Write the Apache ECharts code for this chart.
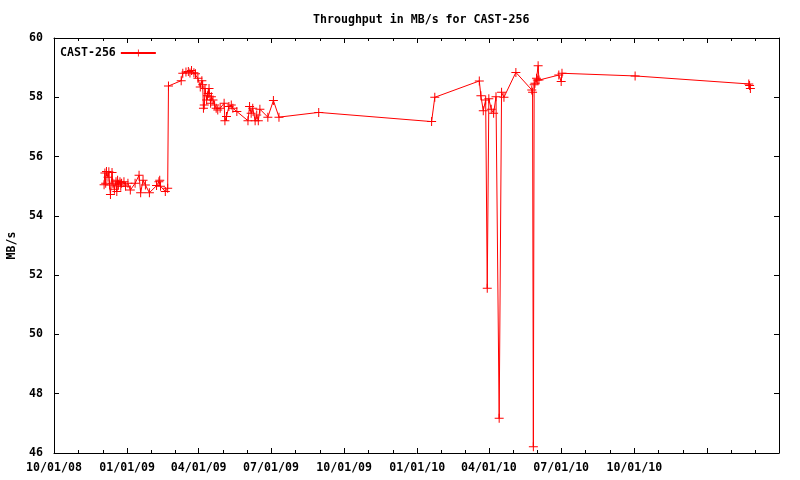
<!DOCTYPE html>
<html>
<head>
<meta charset="utf-8">
<script src="https://cdn.jsdelivr.net/npm/echarts@6/dist/echarts.min.js"></script>
<style>html,body{margin:0;padding:0;background:#fff}#c{width:800px;height:480px}</style>
</head>
<body>
<div id="c"></div>
<script>
const seriesName = 'CAST-256';
const titleText = 'Throughput in MB/s for CAST-256';
const yAxisName = 'MB/s';
const xTickLabels = ['10/01/08','01/01/09','04/01/09','07/01/09','10/01/09','01/01/10','04/01/10','07/01/10','10/01/10'];
const xMin = '2008-10-01';
const xMax = '2011-04-01';
const yMin = 46, yMax = 60, yStep = 2;

const dates = [
 '2008-12-03','2008-12-04','2008-12-05','2008-12-06','2008-12-08','2008-12-09','2008-12-10','2008-12-11',
 '2008-12-13','2008-12-14','2008-12-16','2008-12-18','2008-12-19','2008-12-20','2008-12-21','2008-12-23',
 '2008-12-24','2008-12-25','2008-12-28','2008-12-30','2009-01-02','2009-01-05','2009-01-11','2009-01-16',
 '2009-01-18','2009-01-21','2009-01-24','2009-01-29','2009-02-07','2009-02-10','2009-02-11','2009-02-12',
 '2009-02-18','2009-02-21','2009-02-22',
 '2009-03-10','2009-03-12','2009-03-16','2009-03-19','2009-03-21','2009-03-23','2009-03-26','2009-03-28',
 '2009-03-31','2009-04-03','2009-04-05','2009-04-06','2009-04-07','2009-04-08','2009-04-09','2009-04-11',
 '2009-04-12','2009-04-13','2009-04-14','2009-04-16','2009-04-17','2009-04-19','2009-04-21','2009-04-23',
 '2009-04-25','2009-04-28','2009-05-03','2009-05-04','2009-05-06','2009-05-09','2009-05-12','2009-05-14',
 '2009-05-19','2009-06-02','2009-06-04','2009-06-06','2009-06-08','2009-06-11','2009-06-13','2009-06-15',
 '2009-06-17','2009-06-27','2009-07-04','2009-07-11','2009-08-30',
 '2010-01-19','2010-01-23','2010-03-20','2010-03-22','2010-03-25','2010-03-28','2010-03-30','2010-04-01',
 '2010-04-04','2010-04-07','2010-04-10','2010-04-14','2010-04-17','2010-04-20','2010-05-05','2010-05-25',
 '2010-05-26','2010-05-27','2010-05-28','2010-05-29','2010-05-31','2010-06-01','2010-06-02','2010-06-03',
 '2010-06-28','2010-07-01','2010-07-02','2010-10-02','2011-02-22','2011-02-23','2011-02-24'
];
const values = [
 55.05,55.45,55.10,55.50,55.30,55.49,55.04,54.72,
 55.46,55.10,54.90,55.15,54.82,55.20,55.05,55.15,
 55.00,55.10,55.15,55.00,55.10,54.87,55.10,55.37,
 54.78,55.20,55.04,54.78,55.02,55.15,55.20,55.00,
 54.82,54.93,58.38,
 58.56,58.81,58.85,58.87,58.82,58.90,58.83,58.79,
 58.64,58.35,58.56,58.42,57.63,57.74,58.30,57.91,
 58.05,58.13,58.30,57.80,58.02,57.91,57.74,57.63,
 57.57,57.63,57.80,57.21,57.35,57.69,57.74,57.63,
 57.52,57.21,57.69,57.46,57.63,57.21,57.40,57.21,
 57.60,57.33,57.89,57.33,57.49,
 57.18,58.00,58.55,58.05,57.55,57.91,51.56,57.95,
 57.60,57.46,58.02,47.17,58.17,58.00,58.84,58.25,
 58.17,46.21,58.42,58.47,58.64,58.58,59.06,58.58,
 58.75,58.53,58.81,58.72,58.45,58.40,58.30
];

const FONT = 'DejaVu Sans Mono';
const FW = 'bold';
const FS = 11.6;
const RED = '#ff0000';
const PLUS = 'path://M4,0L5,0L5,4L9,4L9,5L5,5L5,9L4,9L4,5L0,5L0,4L4,4Z';

function pad(n){return (n<10?'0':'')+n;}
function fmtDate(v){
  const d = new Date(v);
  const s = pad(d.getMonth()+1)+'/'+pad(d.getDate())+'/'+pad(d.getFullYear()%100);
  return xTickLabels.indexOf(s) >= 0 ? s : '';
}

const data = dates.map((d,i)=>[d, values[i]]);

const xBase = {
  type:'time', min:xMin, max:xMax, splitNumber:10,
  minInterval: 85*86400000,
  axisLine:{show:true, lineStyle:{color:'#000', width:1}},
  axisTick:{show:true, inside:true, length:5, lineStyle:{color:'#000'}},
  minorTick:{show:true, splitNumber:3, length:3, lineStyle:{color:'#000'}},
  splitLine:{show:false},
  minorSplitLine:{show:false}
};
const yBase = {
  type:'value', min:yMin, max:yMax, interval:yStep,
  axisLine:{show:true, lineStyle:{color:'#000', width:1}},
  axisTick:{show:true, inside:true, length:5, lineStyle:{color:'#000'}},
  splitLine:{show:false}
};

const chart = echarts.init(document.getElementById('c'), null, {renderer:'canvas'});
chart.setOption({
  animation:false,
  backgroundColor:'#fff',
  textStyle:{fontFamily:FONT},
  title:{text:titleText, left:308, top:9,
    textStyle:{fontFamily:FONT, fontSize:FS, fontWeight:FW, color:'#000'}},
  legend:{
    show:true, left:55, top:42, align:'right', itemWidth:35, itemHeight:9, itemGap:0,
    textStyle:{fontFamily:FONT, fontSize:FS, fontWeight:FW, color:'#000'},
    data:[seriesName]
  },
  grid:{left:54, right:21, top:38, bottom:27, containLabel:false, outerBoundsMode:'none', show:false},
  xAxis:[
    Object.assign({}, xBase, {position:'bottom',
      axisLabel:{show:true, margin:9, formatter:fmtDate, color:'#000', fontFamily:FONT, fontSize:FS, fontWeight:FW, hideOverlap:false, showMinLabel:true, showMaxLabel:true}}),
    Object.assign({}, xBase, {position:'top', axisLabel:{show:false}})
  ],
  yAxis:[
    Object.assign({}, yBase, {position:'left', name:yAxisName, nameLocation:'middle', nameGap:34, nameRotate:90,
      nameTextStyle:{fontFamily:FONT, fontSize:FS, fontWeight:FW, color:'#000'},
      axisLabel:{show:true, margin:11, color:'#000', fontFamily:FONT, fontSize:FS, fontWeight:FW}}),
    Object.assign({}, yBase, {position:'right', axisLabel:{show:false}})
  ],
  series:[{
    name:seriesName, type:'line', xAxisIndex:0, yAxisIndex:0,
    data:data, symbol:PLUS, symbolSize:9, showSymbol:true, showAllSymbol:true,
    lineStyle:{color:RED, width:1},
    itemStyle:{color:RED},
    emphasis:{disabled:true},
    sampling:null
  }]
});
</script>
</body>
</html>
